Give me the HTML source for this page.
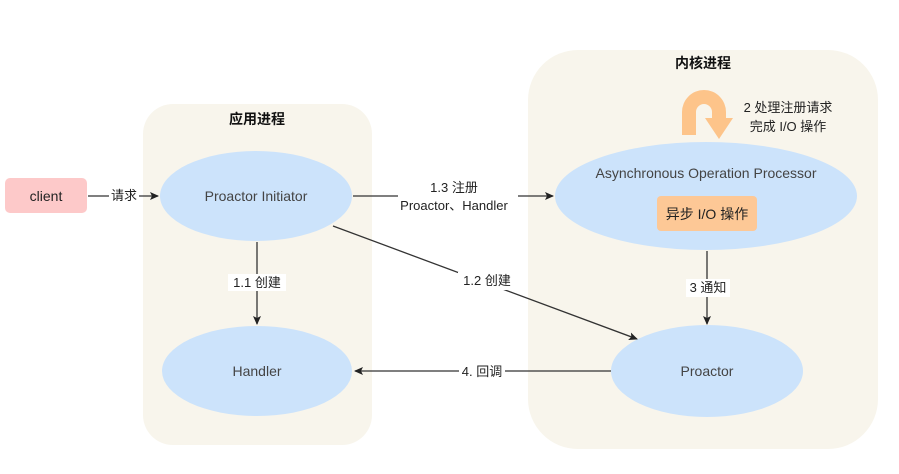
<!DOCTYPE html>
<html><head><meta charset="utf-8"><style>
html,body{margin:0;padding:0;background:#fff;}
svg{display:block;font-family:"Liberation Sans","Noto Sans CJK SC",sans-serif;}
</style></head><body>
<svg width="899" height="474" viewBox="0 0 899 474" xmlns="http://www.w3.org/2000/svg">
<defs>
<marker id="a" markerWidth="10" markerHeight="10" refX="8" refY="5" orient="auto" markerUnits="userSpaceOnUse"><path d="M0,1 L9,5 L0,9 L2,5 Z" fill="#222"/></marker>
</defs>
<rect x="143" y="104" width="229" height="341" rx="30" fill="#f8f5ec"/>
<rect x="528" y="50" width="350" height="399" rx="50" fill="#f8f5ec"/>
<text x="257" y="124" font-size="14" font-weight="bold" text-anchor="middle" fill="#111">应用进程</text>
<text x="703" y="68" font-size="14" font-weight="bold" text-anchor="middle" fill="#111">内核进程</text>

<rect x="5" y="178" width="82" height="35" rx="5" fill="#fdc9c9"/>
<text x="46" y="201" font-size="14" text-anchor="middle" fill="#222">client</text>

<ellipse cx="256" cy="196" rx="96" ry="45" fill="#cce3fb"/>
<text x="256" y="201" font-size="14" text-anchor="middle" fill="#444">Proactor Initiator</text>
<ellipse cx="257" cy="371" rx="95" ry="45" fill="#cce3fb"/>
<text x="257" y="376" font-size="14" text-anchor="middle" fill="#444">Handler</text>
<ellipse cx="706" cy="196" rx="151" ry="54" fill="#cce3fb"/>
<text x="706" y="178" font-size="14" text-anchor="middle" fill="#444">Asynchronous Operation Processor</text>
<rect x="657" y="196" width="100" height="35" rx="4" fill="#fdc896"/>
<text x="707" y="219" font-size="14" text-anchor="middle" fill="#222">异步 I/O 操作</text>
<ellipse cx="707" cy="371" rx="96" ry="46" fill="#cce3fb"/>
<text x="707" y="376" font-size="14" text-anchor="middle" fill="#444">Proactor</text>

<!-- U arrow -->
<path d="M682,135 L682,112 A22,22 0 0 1 726,112 L726,118 L733,118 L719,139 L705,118 L712,118 L712,112 A8,8 0 0 0 696,112 L696,135 Z" fill="#fdc48a"/>
<text x="788" y="112" font-size="13" text-anchor="middle" fill="#222">2 处理注册请求</text>
<text x="788" y="131" font-size="13" text-anchor="middle" fill="#222">完成 I/O 操作</text>

<g stroke="#333" stroke-width="1.3" fill="none">
<line x1="88" y1="196" x2="158" y2="196" marker-end="url(#a)"/>
<line x1="353" y1="196" x2="553" y2="196" marker-end="url(#a)"/>
<line x1="257" y1="242" x2="257" y2="324" marker-end="url(#a)"/>
<line x1="333" y1="226" x2="637" y2="339" marker-end="url(#a)"/>
<line x1="707" y1="251" x2="707" y2="324" marker-end="url(#a)"/>
<line x1="611" y1="371" x2="355" y2="371" marker-end="url(#a)"/>
</g>
<g font-size="13" text-anchor="middle" fill="#222">
<rect x="109" y="187" width="30" height="17" fill="#fff"/>
<text x="124" y="200">请求</text>
<rect x="398" y="178" width="120" height="36" fill="#fff"/>
<text x="454" y="192">1.3 注册</text>
<text x="454" y="210">Proactor、Handler</text>
<rect x="228" y="274" width="58" height="17" fill="#fff"/>
<text x="257" y="287">1.1 创建</text>
<rect x="458" y="272" width="58" height="18" fill="#fff"/>
<text x="487" y="285">1.2 创建</text>
<rect x="686" y="279" width="44" height="18" fill="#fff"/>
<text x="708" y="292">3 通知</text>
<rect x="459" y="363" width="46" height="17" fill="#fff"/>
<text x="482" y="376">4. 回调</text>
</g>
</svg>
</body></html>
